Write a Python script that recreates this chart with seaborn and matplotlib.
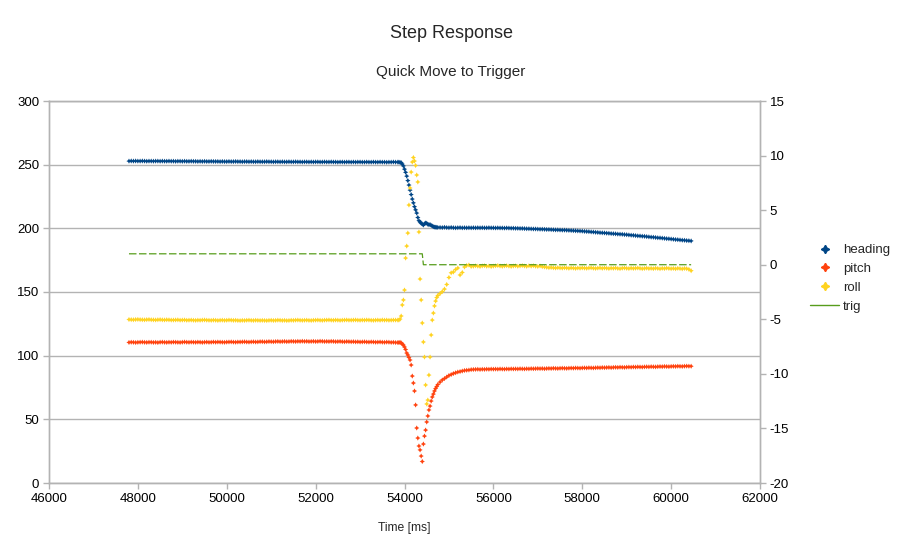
import matplotlib
matplotlib.use("Agg")
import matplotlib.pyplot as plt
from matplotlib.lines import Line2D
import seaborn as sns
import pandas as pd

# ---------------- data ----------------
time_ms = [
    # before the move (50 ms samples)
    47800, 47850, 47900, 47950, 48000, 48050, 48100, 48150, 48200, 48250,
    48300, 48350, 48400, 48450, 48500, 48550, 48600, 48650, 48700, 48750,
    48800, 48850, 48900, 48950, 49000, 49050, 49100, 49150, 49200, 49250,
    49300, 49350, 49400, 49450, 49500, 49550, 49600, 49650, 49700, 49750,
    49800, 49850, 49900, 49950, 50000, 50050, 50100, 50150, 50200, 50250,
    50300, 50350, 50400, 50450, 50500, 50550, 50600, 50650, 50700, 50750,
    50800, 50850, 50900, 50950, 51000, 51050, 51100, 51150, 51200, 51250,
    51300, 51350, 51400, 51450, 51500, 51550, 51600, 51650, 51700, 51750,
    51800, 51850, 51900, 51950, 52000, 52050, 52100, 52150, 52200, 52250,
    52300, 52350, 52400, 52450, 52500, 52550, 52600, 52650, 52700, 52750,
    52800, 52850, 52900, 52950, 53000, 53050, 53100, 53150, 53200, 53250,
    53300, 53350, 53400, 53450, 53500, 53550, 53600, 53650, 53700, 53750,
    53800,
    # the move (25 ms samples)
    53850, 53875, 53900, 53925, 53950, 53975, 54000, 54025, 54050, 54075,
    54100, 54125, 54150, 54175, 54200, 54225, 54250, 54275, 54300, 54325,
    54350, 54375, 54400, 54425, 54450, 54475, 54500, 54525, 54550, 54575,
    54600, 54625, 54650, 54675, 54700, 54725, 54750,
    # settling
    54800, 54850, 54900, 54950, 55000, 55050, 55100, 55150, 55200, 55250,
    55300, 55350, 55400, 55450, 55500,
    # after
    55550, 55600, 55650, 55700, 55750, 55800, 55850, 55900, 55950, 56000,
    56050, 56100, 56150, 56200, 56250, 56300, 56350, 56400, 56450, 56500,
    56550, 56600, 56650, 56700, 56750, 56800, 56850, 56900, 56950, 57000,
    57050, 57100, 57150, 57200, 57250, 57300, 57350, 57400, 57450, 57500,
    57550, 57600, 57650, 57700, 57750, 57800, 57850, 57900, 57950, 58000,
    58050, 58100, 58150, 58200, 58250, 58300, 58350, 58400, 58450, 58500,
    58550, 58600, 58650, 58700, 58750, 58800, 58850, 58900, 58950, 59000,
    59050, 59100, 59150, 59200, 59250, 59300, 59350, 59400, 59450, 59500,
    59550, 59600, 59650, 59700, 59750, 59800, 59850, 59900, 59950, 60000,
    60050, 60100, 60150, 60200, 60250, 60300, 60350, 60400, 60450,
]

heading = [
    252.8, 252.9, 252.8, 252.9, 252.8, 252.8, 252.9, 252.8, 252.7, 252.8,
    252.8, 252.7, 252.8, 252.8, 252.7, 252.8, 252.7, 252.7, 252.8, 252.7,
    252.7, 252.6, 252.7, 252.7, 252.6, 252.7, 252.6, 252.6, 252.7, 252.6,
    252.6, 252.5, 252.6, 252.5, 252.6, 252.5, 252.5, 252.6, 252.5, 252.5,
    252.5, 252.4, 252.5, 252.4, 252.4, 252.5, 252.4, 252.4, 252.5, 252.4,
    252.4, 252.3, 252.4, 252.4, 252.3, 252.4, 252.3, 252.3, 252.4, 252.3,
    252.3, 252.3, 252.4, 252.3, 252.3, 252.2, 252.3, 252.3, 252.2, 252.3,
    252.2, 252.2, 252.3, 252.2, 252.2, 252.3, 252.2, 252.2, 252.1, 252.2,
    252.2, 252.1, 252.2, 252.1, 252.2, 252.2, 252.1, 252.1, 252.2, 252.1,
    252.1, 252.2, 252.1, 252.1, 252.0, 252.1, 252.1, 252.0, 252.1, 252.1,
    252.0, 252.1, 252.0, 252.1, 252.1, 252.0, 252.0, 252.1, 252.0, 252.0,
    252.1, 252.0, 252.0, 252.1, 252.0, 252.0, 251.9, 252.0, 252.0, 252.1,
    252.0,
    252.0, 252.0, 251.8, 251.6, 250.5, 249.0, 246.5, 244.0, 241.0, 237.5,
    234.0, 230.0, 226.5, 223.0, 220.0, 217.0, 214.5, 212.0, 208.5, 206.0,
    205.0, 204.0, 203.3, 202.6, 203.6, 204.2, 204.0, 203.2, 202.8, 203.0,
    202.3, 201.8, 201.3, 201.0, 200.9, 200.8, 200.7,
    200.7, 200.6, 200.8, 200.6, 200.5, 200.7, 200.5, 200.4, 200.5, 200.6,
    200.4, 200.5, 200.4, 200.5, 200.4,
    200.5, 200.4, 200.5, 200.4, 200.5, 200.4, 200.4, 200.5, 200.4, 200.4,
    200.3, 200.4, 200.3, 200.3, 200.2, 200.3, 200.2, 200.1, 200.1, 200.0,
    200.0, 199.9, 199.9, 199.8, 199.7, 199.7, 199.6, 199.5, 199.5, 199.4,
    199.3, 199.3, 199.2, 199.1, 199.1, 199.0, 198.9, 198.8, 198.8, 198.7,
    198.6, 198.6, 198.5, 198.4, 198.3, 198.2, 198.1, 198.0, 197.9, 197.8,
    197.6, 197.5, 197.4, 197.2, 197.1, 196.9, 196.8, 196.6, 196.5, 196.4,
    196.2, 196.1, 195.9, 195.8, 195.7, 195.5, 195.4, 195.3, 195.1, 195.0,
    194.8, 194.6, 194.5, 194.3, 194.1, 194.0, 193.8, 193.7, 193.5, 193.3,
    193.1, 193.0, 192.8, 192.6, 192.5, 192.3, 192.1, 191.9, 191.8, 191.6,
    191.4, 191.2, 191.1, 190.9, 190.7, 190.6, 190.4, 190.3, 190.1,
]

pitch = [
    -7.12, -7.10, -7.11, -7.13, -7.11, -7.10, -7.09, -7.11, -7.12, -7.10,
    -7.10, -7.12, -7.11, -7.13, -7.10, -7.09, -7.11, -7.12, -7.10, -7.11,
    -7.09, -7.10, -7.11, -7.12, -7.10, -7.08, -7.10, -7.11, -7.09, -7.10,
    -7.11, -7.09, -7.10, -7.12, -7.10, -7.09, -7.11, -7.10, -7.08, -7.10,
    -7.08, -7.09, -7.10, -7.11, -7.09, -7.08, -7.07, -7.09, -7.10, -7.08,
    -7.08, -7.07, -7.06, -7.08, -7.09, -7.07, -7.06, -7.08, -7.07, -7.05,
    -7.05, -7.07, -7.06, -7.04, -7.05, -7.06, -7.04, -7.03, -7.05, -7.04,
    -7.03, -7.05, -7.04, -7.02, -7.03, -7.04, -7.02, -7.03, -7.01, -7.03,
    -7.02, -7.04, -7.03, -7.02, -7.04, -7.03, -7.01, -7.02, -7.04, -7.03,
    -7.04, -7.02, -7.03, -7.05, -7.04, -7.03, -7.05, -7.06, -7.04, -7.05,
    -7.06, -7.05, -7.07, -7.06, -7.08, -7.07, -7.06, -7.08, -7.09, -7.07,
    -7.08, -7.10, -7.09, -7.08, -7.10, -7.11, -7.09, -7.10, -7.12, -7.11,
    -7.13,
    -7.13, -7.13, -7.11, -7.16, -7.27, -7.36, -7.54, -7.77, -8.09, -8.27,
    -8.50, -8.73, -9.19, -10.20, -10.84, -11.57, -12.85, -14.96, -15.88, -16.61,
    -16.97, -17.53, -18.03, -16.43, -15.70, -15.15, -14.41, -13.86, -13.31, -12.95,
    -12.49, -12.12, -11.85, -11.57, -11.34, -11.16, -10.98,
    -10.75, -10.56, -10.43, -10.29, -10.15, -10.06, -9.97, -9.90, -9.83, -9.79,
    -9.74, -9.69, -9.67, -9.65, -9.61,
    -9.60, -9.59, -9.58, -9.60, -9.58, -9.59, -9.57, -9.58, -9.56, -9.57,
    -9.56, -9.57, -9.55, -9.56, -9.57, -9.55, -9.56, -9.54, -9.55, -9.54,
    -9.55, -9.53, -9.54, -9.55, -9.53, -9.54, -9.52, -9.53, -9.52, -9.51,
    -9.52, -9.51, -9.53, -9.51, -9.50, -9.51, -9.49, -9.50, -9.51, -9.49,
    -9.48, -9.49, -9.50, -9.48, -9.47, -9.48, -9.46, -9.47, -9.48, -9.46,
    -9.45, -9.46, -9.44, -9.45, -9.46, -9.44, -9.43, -9.44, -9.42, -9.43,
    -9.42, -9.41, -9.43, -9.41, -9.40, -9.41, -9.39, -9.40, -9.41, -9.39,
    -9.38, -9.39, -9.37, -9.38, -9.36, -9.37, -9.38, -9.36, -9.35, -9.36,
    -9.34, -9.35, -9.36, -9.34, -9.33, -9.34, -9.32, -9.33, -9.34, -9.32,
    -9.31, -9.32, -9.30, -9.31, -9.32, -9.30, -9.29, -9.30, -9.30,
]

roll = [
    -5.02, -5.03, -5.04, -5.02, -5.01, -5.03, -5.04, -5.05, -5.03, -5.02,
    -5.04, -5.05, -5.06, -5.04, -5.03, -5.05, -5.06, -5.04, -5.05, -5.07,
    -5.07, -5.06, -5.05, -5.08, -5.07, -5.06, -5.09, -5.08, -5.07, -5.09,
    -5.10, -5.08, -5.09, -5.07, -5.06, -5.08, -5.09, -5.10, -5.08, -5.09,
    -5.11, -5.09, -5.08, -5.10, -5.09, -5.07, -5.08, -5.10, -5.09, -5.11,
    -5.12, -5.10, -5.11, -5.09, -5.08, -5.10, -5.11, -5.09, -5.10, -5.11,
    -5.10, -5.11, -5.12, -5.10, -5.09, -5.11, -5.10, -5.08, -5.09, -5.11,
    -5.10, -5.12, -5.11, -5.09, -5.10, -5.08, -5.07, -5.09, -5.10, -5.09,
    -5.08, -5.10, -5.11, -5.09, -5.08, -5.07, -5.09, -5.10, -5.08, -5.07,
    -5.06, -5.08, -5.09, -5.07, -5.08, -5.10, -5.08, -5.07, -5.06, -5.08,
    -5.08, -5.07, -5.06, -5.08, -5.09, -5.07, -5.08, -5.06, -5.07, -5.09,
    -5.10, -5.08, -5.07, -5.09, -5.06, -5.08, -5.07, -5.09, -5.08, -5.07,
    -5.07,
    -5.07, -5.07, -4.98, -4.70, -3.69, -3.23, -2.32, 0.61, 1.71, 2.90,
    5.47, 7.03, 8.49, 9.41, 9.82, 9.50, 9.09, 8.22, 7.58, 3.00,
    -1.31, -3.23, -5.34, -7.08, -8.46, -11.02, -12.76, -12.40, -10.11, -8.46,
    -6.44, -5.07, -4.43, -3.78, -3.33, -3.01, -2.82,
    -2.64, -2.46, -2.23, -1.81, -1.17, -0.74, -0.67, -0.44, -0.30, -0.94,
    -0.71, -0.21, -0.07, -0.03, -0.16,
    -0.14, -0.10, -0.13, -0.16, -0.11, -0.09, -0.14, -0.12, -0.17, -0.13,
    -0.10, -0.08, -0.12, -0.15, -0.11, -0.09, -0.13, -0.16, -0.12, -0.10,
    -0.14, -0.11, -0.08, -0.12, -0.15, -0.10, -0.13, -0.09, -0.14, -0.16,
    -0.12, -0.18, -0.21, -0.24, -0.27, -0.25, -0.28, -0.30, -0.27, -0.29,
    -0.31, -0.28, -0.30, -0.33, -0.29, -0.31, -0.34, -0.30, -0.32, -0.29,
    -0.31, -0.33, -0.30, -0.28, -0.32, -0.34, -0.31, -0.29, -0.33, -0.30,
    -0.32, -0.35, -0.31, -0.33, -0.30, -0.34, -0.36, -0.32, -0.30, -0.33,
    -0.35, -0.31, -0.34, -0.32, -0.30, -0.33, -0.36, -0.34, -0.31, -0.35,
    -0.33, -0.36, -0.32, -0.34, -0.37, -0.33, -0.35, -0.31, -0.34, -0.36,
    -0.34, -0.37, -0.33, -0.35, -0.38, -0.34, -0.36, -0.42, -0.55,
]

trig_time = [47800, 54400, 54425, 60450]
trig_value = [1, 1, 0, 0]

series_names = ["heading", "pitch", "roll", "trig"]
colors = ["#004586", "#ff420e", "#ffd320", "#579d1c"]
left_ticks = [0, 50, 100, 150, 200, 250, 300]
right_ticks = [-20, -15, -10, -5, 0, 5, 10, 15]
x_ticks = [46000, 48000, 50000, 52000, 54000, 56000, 58000, 60000, 62000]

df = pd.DataFrame({"time": time_ms, "heading": heading, "pitch": pitch, "roll": roll})
df_trig = pd.DataFrame({"time": trig_time, "trig": trig_value})

# ---------------- style ----------------
sns.set_theme(style="white")
plt.rcParams["font.family"] = ["Liberation Sans", "DejaVu Sans"]
grid_c = "#b3b3b3"

fig = plt.figure(figsize=(9.01, 5.55), dpi=100)
ax = fig.add_axes([49 / 901, 1 - 483 / 555, (760 - 49) / 901, (483 - 101) / 555])
ax2 = ax.twinx()

star = (4, 1, 0)
msize = 14

sns.scatterplot(data=df, x="time", y="heading", ax=ax, color=colors[0],
                marker=star, s=msize, linewidth=0, edgecolor="none", zorder=3)
sns.scatterplot(data=df, x="time", y="pitch", ax=ax2, color=colors[1],
                marker=star, s=msize, linewidth=0, edgecolor="none", zorder=3)
sns.scatterplot(data=df, x="time", y="roll", ax=ax2, color=colors[2],
                marker=star, s=msize, linewidth=0, edgecolor="none", zorder=3)
sns.lineplot(data=df_trig, x="time", y="trig", ax=ax2, color=colors[3],
             linewidth=0.9, zorder=4)
ax2.lines[-1].set_dashes((6, 2))

ax.set_xlim(46000, 62000)
ax.set_ylim(0, 300)
ax2.set_ylim(-20, 15)
ax.set_xticks(x_ticks)
ax.set_yticks(left_ticks)
ax2.set_yticks(right_ticks)
ax.set_xticklabels([str(v) for v in x_ticks])
ax.set_yticklabels([str(v) for v in left_ticks])
ax2.set_yticklabels([str(v) for v in right_ticks])

ax.yaxis.grid(True, color=grid_c, linewidth=1.0)
ax.xaxis.grid(False)
ax2.grid(False)
ax.set_axisbelow(True)

for a in (ax, ax2):
    for sp in a.spines.values():
        sp.set_color(grid_c)
        sp.set_linewidth(1.0)
    a.tick_params(axis="both", which="major", length=4, width=1.0, color=grid_c,
                  labelsize=9.5, labelcolor="#000000", pad=3)
    a.set_xlabel("")
    a.set_ylabel("")
ax.tick_params(axis="x", direction="out", bottom=True)
ax.tick_params(axis="y", direction="out", left=True)
ax2.tick_params(axis="y", direction="out", right=True)

fig.text(451 / 901, 1 - 34 / 555, "Step Response", ha="center", va="center", fontsize=13)
fig.text(451 / 901, 1 - 72 / 555, "Quick Move to Trigger", ha="center", va="center", fontsize=11)
fig.text(404 / 901, 1 - 528 / 555, "Time [ms]", ha="center", va="center", fontsize=8.7)

handles = [
    Line2D([], [], linestyle="none", marker=star, markersize=6, color=colors[0]),
    Line2D([], [], linestyle="none", marker=star, markersize=6, color=colors[1]),
    Line2D([], [], linestyle="none", marker=star, markersize=6, color=colors[2]),
    Line2D([], [], linestyle="-", linewidth=1.0, color=colors[3]),
]
fig.legend(handles, series_names, loc="upper left",
           bbox_to_anchor=(810 / 901, 1 - 244 / 555), frameon=False,
           fontsize=9.5, handlelength=2.2, handletextpad=0.3, labelspacing=0.5,
           borderpad=0, borderaxespad=0)

fig.savefig("out.png", dpi=100)
